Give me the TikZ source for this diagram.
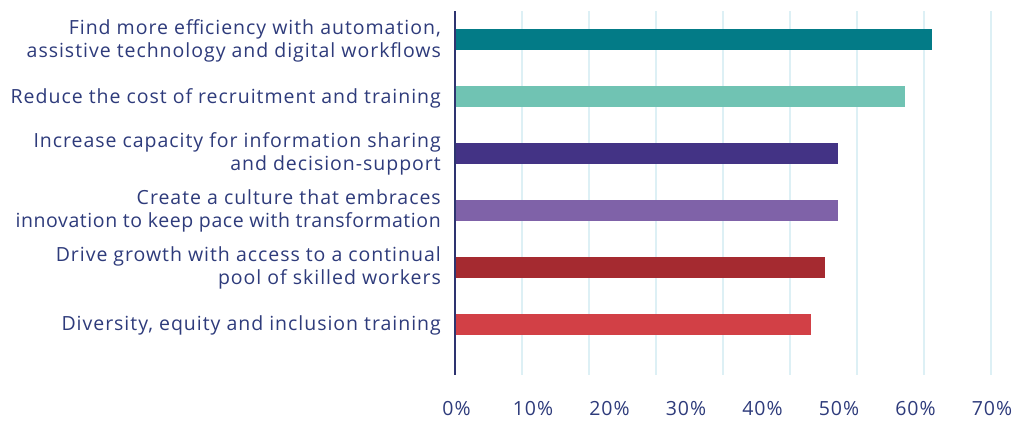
\documentclass[tikz,border=0pt]{standalone}
\usepackage{fontspec}
\setmainfont[LetterSpace=5]{Open Sans}
\definecolor{txt}{HTML}{2E3B7B}
\definecolor{axisc}{HTML}{2E3470}
\definecolor{gridc}{HTML}{DDF0F5}
\definecolor{cA}{HTML}{037B87}
\definecolor{cB}{HTML}{70C3B3}
\definecolor{cC}{HTML}{433385}
\definecolor{cD}{HTML}{7F62A8}
\definecolor{cE}{HTML}{A52A30}
\definecolor{cF}{HTML}{D24046}
\begin{document}
\begin{tikzpicture}[x=1pt,y=-1pt,
  gridline/.style={draw=gridc,line width=2pt},
  axisline/.style={draw=axisc,line width=2pt},
  bar/.style={fill=#1,draw=none},
  lbl/.style={font=\fontsize{19.5}{22.8}\selectfont,text=txt,align=right,anchor=base east,inner sep=0pt},
  tick/.style={font=\fontsize{19.5}{22.8}\selectfont,text=txt,anchor=base,inner sep=0pt}]
\useasboundingbox (0,0) rectangle (1014,421);
\fill[white] (0,0) rectangle (1014,421);
% gridlines
\foreach \k in {1,...,8}{
  \draw[gridline] (455+67*\k,11) -- (455+67*\k,375);
}
% bars (height 20.7, tops at 29+57k)
\fill[bar=cA] (455,29) rectangle (932,49.7);
\fill[bar=cB] (455,86) rectangle (905,106.7);
\fill[bar=cC] (455,143) rectangle (838,163.7);
\fill[bar=cD] (455,200) rectangle (838,220.7);
\fill[bar=cE] (455,257) rectangle (825,277.7);
\fill[bar=cF] (455,314) rectangle (811,334.7);
% axis
\coordinate (atop) at (455,11);
\coordinate (abot) at (455,375);
\draw[axisline] (atop) -- (abot);
% labels (anchor = baseline of last line)
\node[lbl] (l1) at (441,57) {Find more efficiency with automation,\\assistive technology and digital workflows};
\node[lbl] (l2) at (441,103) {Reduce the cost of recruitment and training};
\node[lbl] (l3) at (441,170) {Increase capacity for information sharing\\and decision-support};
\node[lbl] (l4) at (441,227.7) {Create a culture that embraces\\{\addfontfeature{LetterSpace=3}innovation to keep pace with transformation}};
\node[lbl] (l5) at (441,284) {Drive growth with access to a continual\\pool of skilled workers};
\node[lbl] (l6) at (441,330) {Diversity, equity and inclusion training};
% tick labels
\foreach \v [count=\i from 0] in {0\%,10\%,20\%,30\%,40\%,50\%,60\%,70\%}{
  \node[tick] (t\i) at (456.5+76.5*\i,415.5) {\v};
}
\end{tikzpicture}
\end{document}
